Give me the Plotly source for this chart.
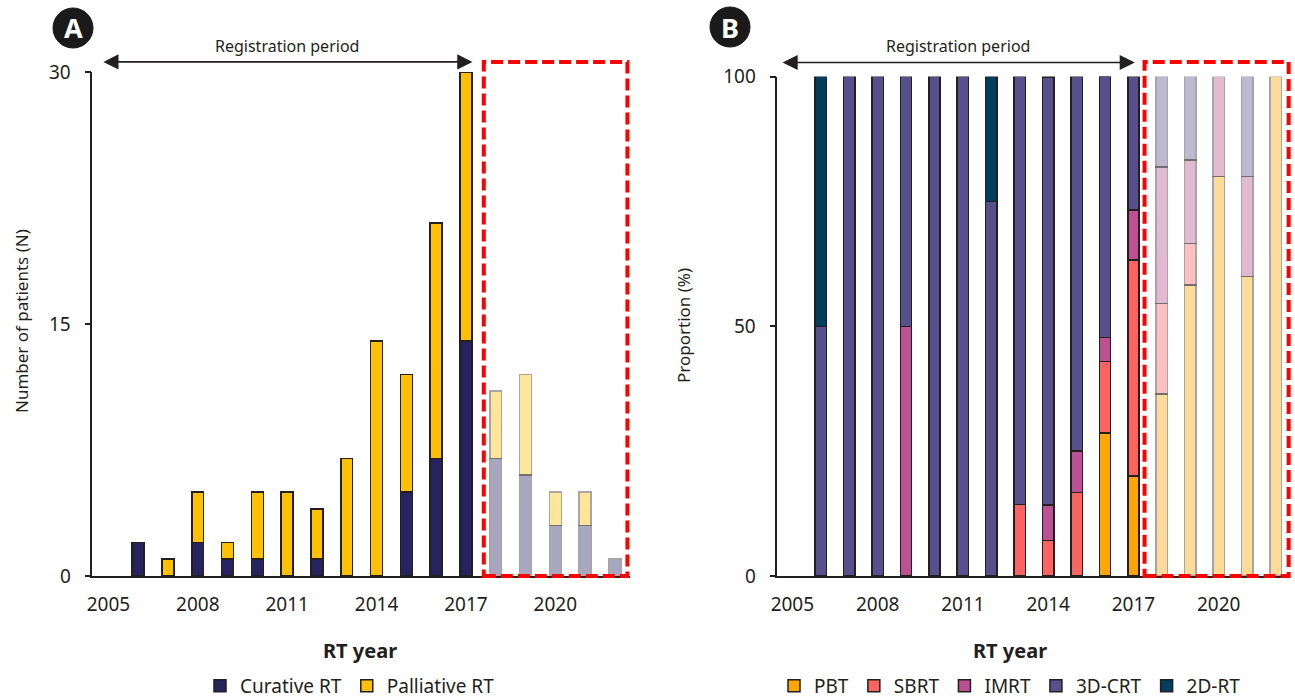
import plotly.graph_objects as go

# ---------------------------------------------------------------- data
years = list(range(2006, 2023))
last_registration_year = 2017

# Panel A: number of patients per RT year
curative = [2, 0, 2, 1, 1, 0, 1, 0, 0, 5, 7, 14, 7, 6, 3, 3, 1]
palliative = [0, 1, 3, 1, 4, 5, 3, 7, 14, 7, 14, 16, 4, 6, 2, 2, 0]

# Panel B: proportion (%) of RT technique per RT year
pbt = [0, 0, 0, 0, 0, 0, 0, 0, 0, 0, 28.6, 20.0, 36.4, 58.3, 80, 60, 100]
sbrt = [0, 0, 0, 0, 0, 0, 0, 14.3, 7.1, 16.7, 14.3, 43.3, 18.2, 8.3, 0, 0, 0]
imrt = [0, 0, 0, 50, 0, 0, 0, 0, 7.1, 8.3, 4.8, 10.0, 27.3, 16.7, 20, 20, 0]
crt3d = [50, 100, 100, 50, 100, 100, 75, 85.7, 85.7, 75, 52.4, 26.7, 18.2, 16.7, 0, 20, 0]
rt2d = [50, 0, 0, 0, 0, 0, 25, 0, 0, 0, 0, 0, 0, 0, 0, 0, 0]

x_tick_years = [2005, 2008, 2011, 2014, 2017, 2020]
ya_ticks = [0, 15, 30]
yb_ticks = [0, 50, 100]

# ---------------------------------------------------------------- style
W, H = 1295, 699
FONT = "Noto Sans"
TEXT = "#231F20"
OUTLINE = "#231F20"
FADE = 0.4
BAR_W = 0.4

series_a = [("Curative RT", curative, "#27235F"),
            ("Palliative RT", palliative, "#FFC000")]
series_b = [("PBT", pbt, "#FFA600"),
            ("SBRT", sbrt, "#FF6361"),
            ("IMRT", imrt, "#BC5090"),
            ("3D-CRT", crt3d, "#58508D"),
            ("2D-RT", rt2d, "#003F5C")]

XA_RANGE = [2004.46, 2022.5]
XB_RANGE = [2004.47, 2022.5]
XA_DOM = [92.3 / W, 629.8 / W]
XB_DOM = [777.3 / W, 1289.8 / W]
YA_DOM = [123 / H, 627 / H]
YB_DOM = [123 / H, 622.5 / H]


def frac(v, rng):
    return (v - rng[0]) / (rng[1] - rng[0])


def split(vals):
    """Split a series into registration-period years and later years, skipping empty years."""
    main_x, main_y, post_x, post_y = [], [], [], []
    for yr, v in zip(years, vals):
        if not v:
            continue
        if yr <= last_registration_year:
            main_x.append(yr); main_y.append(v)
        else:
            post_x.append(yr); post_y.append(v)
    return main_x, main_y, post_x, post_y


fig = go.Figure()


def add_series(series, xa, ya, legend):
    for name, vals, color in series:
        mx, my, px, py = split(vals)
        common = dict(width=BAR_W, xaxis=xa, yaxis=ya, legendgroup=name,
                      marker=dict(color=color, line=dict(color=OUTLINE, width=1.5)),
                      hoverinfo="x+y+name")
        fig.add_trace(go.Bar(x=mx, y=my, name=name, legend=legend, **common))
        fig.add_trace(go.Bar(x=px, y=py, name=name, legend=legend,
                             showlegend=False, opacity=FADE, **common))


add_series(series_a, "x", "y", "legend")
add_series(series_b, "x2", "y2", "legend2")

tickfont = dict(family=FONT, size=19, color=TEXT)
xcommon = dict(showgrid=False, zeroline=False, showline=True, linecolor=TEXT,
               linewidth=1.5, ticks="", tickvals=x_tick_years, tickfont=tickfont,
               ticklabelstandoff=10, fixedrange=True, automargin=False)
ycommon = dict(showgrid=False, zeroline=False, showline=True, linecolor=TEXT,
               linewidth=1.5, ticks="outside", ticklen=6, tickwidth=1.5,
               tickcolor=TEXT, tickfont=tickfont, ticklabelstandoff=10,
               fixedrange=True, automargin=False)

legend_common = dict(orientation="h", y=1 - 686 / H, yanchor="middle",
                     traceorder="normal",
                     font=dict(family=FONT, size=19, color=TEXT),
                     bgcolor="rgba(0,0,0,0)")

fig.update_layout(
    width=W, height=H,
    margin=dict(l=0, r=0, t=0, b=0, pad=0, autoexpand=False),
    paper_bgcolor="white", plot_bgcolor="white",
    barmode="stack",
    font=dict(family=FONT, color=TEXT),
    xaxis=dict(domain=XA_DOM, range=XA_RANGE, anchor="y", **xcommon),
    yaxis=dict(domain=YA_DOM, range=[0, 30], tickvals=ya_ticks, anchor="x", **ycommon),
    xaxis2=dict(domain=XB_DOM, range=XB_RANGE, anchor="y2", **xcommon),
    yaxis2=dict(domain=YB_DOM, range=[0, 100], tickvals=yb_ticks, anchor="x2", **ycommon),
    legend=dict(x=350 / W, xanchor="center", **legend_common),
    legend2=dict(x=1010 / W, xanchor="center", **legend_common),
    showlegend=True,
)

shapes = []
annotations = []

# dashed box around the years after the registration period, plus arrow and label
panels = [
    dict(xa="x", ya="y", rng=XA_RANGE, ymax=30, box=(2017.6, 2022.42, 30.6),
         arrow=(2004.78, 2017.22, 30.6), label_y=1.0516, badge="A", badge_c=(73, 28),
         ytitle="Number of patients (N)", ytitle_pos=(22, 321), xtitle_pos=(360, 650)),
    dict(xa="x2", ya="y2", rng=XB_RANGE, ymax=100, box=(2017.39, 2022.46, 102.9),
         arrow=(2004.6, 2017.05, 102.8), label_y=1.061, badge="B", badge_c=(730, 27),
         ytitle="Proportion (%)", ytitle_pos=(684, 326), xtitle_pos=(1010, 650)),
]

for p in panels:
    x0, x1, ytop = p["box"]
    shapes.append(dict(
        type="rect", xref=f"{p['xa']} domain", yref=f"{p['ya']} domain",
        x0=frac(x0, p["rng"]), x1=frac(x1, p["rng"]), y0=0, y1=ytop / p["ymax"],
        line=dict(color="#FF0000", width=4, dash="12px,5px"), layer="above"))

    a0, a1, ay = p["arrow"]
    annotations.append(dict(
        xref=p["xa"], yref=f"{p['ya']} domain", axref=p["xa"], ayref=f"{p['ya']} domain",
        x=a1, y=ay / p["ymax"], ax=a0, ay=ay / p["ymax"], text="",
        showarrow=True, arrowside="end+start", arrowhead=2, arrowsize=1.9,
        arrowwidth=1.6, arrowcolor=TEXT, standoff=0, startstandoff=0))
    annotations.append(dict(
        xref=p["xa"], yref=f"{p['ya']} domain", x=(a0 + a1) / 2, y=p["label_y"],
        text="Registration period", showarrow=False, xanchor="center", yanchor="middle",
        font=dict(family=FONT, size=16, color=TEXT)))

    cx, cy = p["badge_c"]
    r = 20
    shapes.append(dict(type="circle", xref="paper", yref="paper",
                       x0=(cx - r) / W, x1=(cx + r) / W,
                       y0=1 - (cy + r) / H, y1=1 - (cy - r) / H,
                       fillcolor="#1A1A1A", line=dict(color="#1A1A1A", width=1)))
    annotations.append(dict(xref="paper", yref="paper", x=cx / W, y=1 - cy / H,
                            text=f"<b>{p['badge']}</b>", showarrow=False,
                            xanchor="center", yanchor="middle",
                            font=dict(family=FONT, size=27, color="white")))

    tx, ty = p["ytitle_pos"]
    annotations.append(dict(xref="paper", yref="paper", x=tx / W, y=1 - ty / H,
                            text=p["ytitle"], textangle=-90, showarrow=False,
                            xanchor="center", yanchor="middle",
                            font=dict(family=FONT, size=17, color=TEXT)))
    rx, ry = p["xtitle_pos"]
    annotations.append(dict(xref="paper", yref="paper", x=rx / W, y=1 - ry / H,
                            text="<b>RT year</b>", showarrow=False,
                            xanchor="center", yanchor="middle",
                            font=dict(family=FONT, size=20, color=TEXT)))

fig.update_layout(shapes=shapes, annotations=annotations)

fig.write_html("out.html")
